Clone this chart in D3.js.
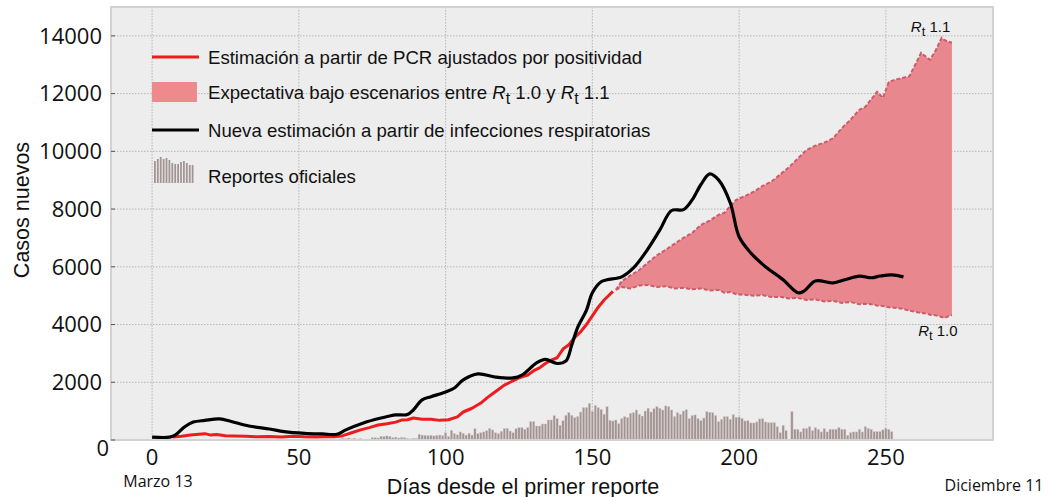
<!DOCTYPE html>
<html>
<head>
<meta charset="utf-8">
<script src="https://cdn.jsdelivr.net/npm/d3@7"></script>
<style>
  body { margin: 0; background: #fff; }
  svg { display: block; }
</style>
</head>
<body>
<div id="chart"></div>
<script>
// daily official reports (day index starts at firstBarDay)
const firstBarDay = 62
const officialReports = [
    20, 30, 40, 60, 50, 70, 40, 60, 30, 50, 0, 20, 30, 80, 80, 70, 130, 120,
    140, 130, 80, 100, 70, 90, 80, 50, 40, 60, 50, 200, 170, 160, 150, 160, 140,
    160, 170, 150, 255, 120, 335, 220, 180, 280, 230, 170, 230, 170, 390, 220,
    250, 280, 320, 400, 350, 250, 220, 300, 400, 400, 310, 250, 390, 430, 430,
    370, 430, 635, 635, 485, 485, 555, 555, 693, 693, 843, 740, 510, 670, 855,
    947, 855, 775, 810, 970, 1120, 1120, 1270, 995, 1200, 1120, 1060, 890, 1155,
    680, 660, 693, 565, 740, 810, 775, 925, 947, 1040, 890, 830, 1005, 1100, 970,
    1085, 1155, 1100, 1040, 1180, 1155, 1040, 810, 947, 890, 1005, 1050, 740, 845,
    867, 740, 670, 760, 980, 960, 947, 845, 635, 715, 810, 810, 715, 880, 785,
    797, 750, 660, 670, 590, 590, 625, 730, 740, 625, 600, 600, 600, 460, 255,
    510, 325, 0, 980, 370, 370, 280, 400, 400, 460, 325, 430, 370, 280, 390, 280,
    370, 370, 370, 430, 370, 370, 160, 255, 280, 280, 370, 280, 460, 400, 370,
    290, 290, 290, 350, 400, 370, 290
]

// PCR estimate adjusted by positivity [day, cases]
const pcrDays = [7, 10, 13, 16, 18, 20, 22, 25, 28, 32, 36, 40, 44, 48, 52, 56, 60, 62, 65, 68, 71, 74, 77, 80, 83, 85, 87, 89, 92, 95, 98, 101, 104, 106, 109, 112, 114, 116, 118, 120, 122, 125, 128, 130, 132, 134, 136, 138, 140, 142, 144, 146, 148, 150, 152, 154, 156, 157]
const pcrCases = [100, 130, 170, 200, 220, 170, 190, 150, 140, 130, 110, 120, 100, 130, 110, 100, 120, 110, 150, 250, 350, 430, 520, 560, 620, 690, 700, 760, 720, 720, 680, 700, 800, 970, 1100, 1280, 1450, 1600, 1750, 1900, 2000, 2150, 2250, 2400, 2500, 2650, 2770, 2850, 3150, 3300, 3550, 3750, 4000, 4300, 4600, 4850, 5050, 5150]

// new estimate from respiratory infections
const respDays = [0, 6, 8, 11, 14, 18, 23, 27, 33, 40, 45, 52, 58, 63, 66, 72, 78, 83, 87, 89, 92, 95, 100, 103, 106, 111, 117, 123, 126, 131, 134, 138, 141, 143, 145, 148, 150, 153, 155, 160, 164, 168, 173, 177, 181, 184, 187, 190, 193, 197, 200, 204, 209, 215, 220, 222, 226, 232, 236, 241, 245, 248, 252, 256]
const respCases = [100, 100, 180, 450, 620, 680, 730, 640, 485, 380, 290, 230, 210, 200, 350, 590, 760, 870, 880, 1040, 1390, 1500, 1660, 1800, 2080, 2290, 2180, 2150, 2250, 2670, 2790, 2650, 2740, 3300, 3900, 4500, 5100, 5480, 5550, 5650, 5960, 6480, 7280, 7950, 7980, 8320, 8850, 9220, 9010, 8210, 7040, 6480, 6000, 5550, 5100, 5150, 5510, 5440, 5550, 5680, 5620, 5680, 5720, 5650]

// projection band between Rt 1.0 and Rt 1.1
const bandDays = [158, 160, 163, 166, 169, 172, 175, 178, 181, 184, 187, 190, 193, 195, 197, 199, 202, 205, 208, 211, 214, 217, 220, 223, 226, 229, 232, 235, 238, 241, 243, 245, 247, 249, 251, 253, 256, 258, 260, 262, 264, 265, 267, 269, 270, 272.5]
const bandLow = [5200, 5300, 5250, 5350, 5370, 5300, 5330, 5250, 5270, 5220, 5250, 5180, 5200, 5100, 5130, 5050, 5030, 5000, 5020, 4950, 4960, 4900, 4920, 4850, 4870, 4800, 4820, 4750, 4780, 4700, 4720, 4700, 4660, 4640, 4600, 4580, 4540, 4480, 4440, 4400, 4380, 4340, 4320, 4260, 4230, 4330]
const bandHigh = [5200, 5500, 5700, 5890, 6150, 6400, 6590, 6800, 7000, 7170, 7450, 7600, 7800, 7870, 8100, 8320, 8450, 8600, 8800, 8950, 9200, 9450, 9750, 10050, 10200, 10300, 10450, 10800, 11100, 11440, 11540, 11800, 12060, 11850, 12400, 12480, 12550, 12600, 13000, 13410, 13250, 13170, 13500, 13930, 13850, 13760]

const xTicks = [0, 50, 100, 150, 200, 250]
const yTicks = [0, 2000, 4000, 6000, 8000, 10000, 12000, 14000]
const legendLabels = [
    'Estimación a partir de PCR ajustados por positividad',
    'Expectativa bajo escenarios entre',
    'Nueva estimación a partir de infecciones respiratorias',
    'Reportes oficiales'
]
const legendBarIcon = [22, 24, 26, 24, 25, 23, 20, 19, 19, 21, 22, 20, 18, 18]

const width = 1048
const height = 497
const margin = { top: 7, right: 55, bottom: 57, left: 111 }
const innerWidth = width - margin.left - margin.right
const innerHeight = height - margin.top - margin.bottom

const colors = {
    red: '#ee1c1c',
    band: '#e8888e',
    bandEdge: '#cf5a6a',
    bar: '#a39494',
    grid: '#b4b4b4'
}

// scales work in page coordinates so texts and marks share one frame
const xScale = d3.scaleLinear().domain([-14, 286.5]).range([margin.left, width - margin.right])
const yScale = d3.scaleLinear().domain([0, 15000]).range([height - margin.bottom, margin.top])
const x0 = margin.left, x1 = width - margin.right
const y0 = margin.top, y1 = height - margin.bottom

const svg = d3.select('#chart').append('svg')
    .attr('width', width)
    .attr('height', height)

svg.append('rect')
    .attr('x', x0).attr('y', y0)
    .attr('width', innerWidth)
    .attr('height', innerHeight)
    .attr('fill', '#ededed')

// dotted grid
svg.append('g').selectAll('line').data(xTicks).join('line')
    .attr('x1', d => xScale(d)).attr('x2', d => xScale(d))
    .attr('y1', y0).attr('y2', y1)
    .attr('stroke', colors.grid).attr('stroke-width', 1).attr('stroke-dasharray', '1.5,1.5')
svg.append('g').selectAll('line').data(yTicks).join('line')
    .attr('x1', x0).attr('x2', x1)
    .attr('y1', d => yScale(d)).attr('y2', d => yScale(d))
    .attr('stroke', colors.grid).attr('stroke-width', 1).attr('stroke-dasharray', '1.5,1.5')

// official reports bars
svg.append('g').selectAll('rect').data(officialReports).join('rect')
    .attr('x', (d, i) => xScale(firstBarDay + i) - 1.1)
    .attr('y', d => yScale(d))
    .attr('width', 2.2)
    .attr('height', d => yScale(0) - yScale(d))
    .attr('fill', colors.bar)
    .attr('stroke', '#d3c6c6')
    .attr('stroke-width', 0.4)

// projection band
const bandData = bandDays.map((d, i) => ({ day: d, low: bandLow[i], high: bandHigh[i] }))
svg.append('path')
    .datum(bandData)
    .attr('d', d3.area().x(d => xScale(d.day)).y0(d => yScale(d.low)).y1(d => yScale(d.high)))
    .attr('fill', colors.band)
const edge = key => d3.line().x(d => xScale(d.day)).y(d => yScale(d[key]))
;['low', 'high'].forEach(k => {
    svg.append('path')
        .datum(bandData)
        .attr('d', edge(k))
        .attr('fill', 'none')
        .attr('stroke', colors.bandEdge)
        .attr('stroke-width', 2)
        .attr('stroke-dasharray', '4,2')
})

// PCR line
svg.append('path')
    .datum(pcrDays.map((d, i) => [d, pcrCases[i]]))
    .attr('d', d3.line().x(d => xScale(d[0])).y(d => yScale(d[1])))
    .attr('fill', 'none')
    .attr('stroke', colors.red)
    .attr('stroke-width', 3)
    .attr('stroke-linejoin', 'round')

// respiratory infections line
svg.append('path')
    .datum(respDays.map((d, i) => [d, respCases[i]]))
    .attr('d', d3.line().curve(d3.curveCatmullRom.alpha(0.5)).x(d => xScale(d[0])).y(d => yScale(d[1])))
    .attr('fill', 'none')
    .attr('stroke', '#000')
    .attr('stroke-width', 3.2)
    .attr('stroke-linejoin', 'round')

// frame
svg.append('rect')
    .attr('x', x0).attr('y', y0)
    .attr('width', innerWidth)
    .attr('height', innerHeight)
    .attr('fill', 'none')
    .attr('stroke', '#d2d2d2')
    .attr('stroke-width', 2)

// y axis ticks + labels
svg.append('g').selectAll('line').data(yTicks).join('line')
    .attr('x1', x0).attr('x2', x0 + 4)
    .attr('y1', d => yScale(d)).attr('y2', d => yScale(d))
    .attr('stroke', '#555').attr('stroke-width', 1)

const tickFont = '"Open Sans", sans-serif'
svg.append('g').selectAll('text').data(yTicks).join('text')
    .attr('x', d => x0 + (d === 0 ? -2 : -9))
    .attr('y', d => yScale(d) + (d === 0 ? 8 : 0) + 7.7)
    .attr('text-anchor', 'end')
    .style('font-family', tickFont)
    .style('font-size', '22px')
    .attr('fill', '#111')
    .text(d => d)

svg.append('g').selectAll('text').data(xTicks).join('text')
    .attr('x', d => xScale(d))
    .attr('y', y1 + 24.7)
    .attr('text-anchor', 'middle')
    .style('font-family', tickFont)
    .style('font-size', '22px')
    .attr('fill', '#111')
    .text(d => d)

// axis titles
const titleFont = '"Liberation Sans", Arial, sans-serif'
svg.append('text')
    .attr('x', 523)
    .attr('y', 486)
    .attr('dy', '0.35em')
    .attr('text-anchor', 'middle')
    .style('font-family', titleFont)
    .style('font-size', '21.5px')
    .attr('fill', '#111')
    .text('Días desde el primer reporte')

svg.append('text')
    .attr('transform', 'translate(21,210) rotate(-90)')
    .attr('dy', '0.35em')
    .attr('text-anchor', 'middle')
    .style('font-family', titleFont)
    .style('font-size', '21.5px')
    .attr('fill', '#111')
    .text('Casos nuevos')

svg.append('text')
    .attr('x', 158)
    .attr('y', 481)
    .attr('dy', '0.35em')
    .attr('text-anchor', 'middle')
    .style('font-family', tickFont)
    .style('font-size', '16px')
    .attr('fill', '#111')
    .text('Marzo 13')

svg.append('text')
    .attr('x', 994)
    .attr('y', 485)
    .attr('dy', '0.35em')
    .attr('text-anchor', 'middle')
    .style('font-family', tickFont)
    .style('font-size', '16px')
    .attr('fill', '#111')
    .text('Diciembre 11')

// Rt annotations
const rtLabel = (x, y, val) => {
    const t = svg.append('text')
        .attr('x', x).attr('y', y)
        .style('font-family', titleFont)
        .style('font-size', '15px')
        .attr('fill', '#111')
    t.append('tspan').style('font-style', 'italic').text('R')
    t.append('tspan').attr('dy', 4).style('font-size', '13px').text('t')
    t.append('tspan').attr('dy', -4).text(' ' + val)
}
rtLabel(xScale(258.5), yScale(14150), '1.1')
rtLabel(xScale(261), yScale(3600), '1.0')

// legend
const leg = svg.append('g')
const rowY = [57, 92, 130, 176]
const textX = 208
leg.append('line').attr('x1', 152).attr('x2', 199).attr('y1', rowY[0]).attr('y2', rowY[0])
    .attr('stroke', colors.red).attr('stroke-width', 3)
leg.append('rect').attr('x', 152).attr('y', 82).attr('width', 45).attr('height', 20)
    .attr('fill', '#ef8a8c')
leg.append('line').attr('x1', 152).attr('x2', 199).attr('y1', rowY[2]).attr('y2', rowY[2])
    .attr('stroke', '#000').attr('stroke-width', 3.2)
leg.append('g').selectAll('rect').data(legendBarIcon).join('rect')
    .attr('x', (d, i) => 154 + i * 2.9)
    .attr('y', d => 183 - d)
    .attr('width', 1.8)
    .attr('height', d => d)
    .attr('fill', colors.bar)

legendLabels.forEach((label, i) => {
    const t = leg.append('text')
        .attr('x', textX)
        .attr('y', rowY[i])
        .attr('dy', '0.35em')
        .style('font-family', titleFont)
        .style('font-size', '18.6px')
        .attr('fill', '#111')
        .text(label)
    if (i === 1) {
        t.append('tspan').text(' ')
        t.append('tspan').style('font-style', 'italic').text('R')
        t.append('tspan').attr('dy', 5).style('font-size', '16px').text('t')
        t.append('tspan').attr('dy', -5).text(' 1.0 y ')
        t.append('tspan').style('font-style', 'italic').text('R')
        t.append('tspan').attr('dy', 5).style('font-size', '16px').text('t')
        t.append('tspan').attr('dy', -5).text(' 1.1')
    }
})
</script>
</body>
</html>
